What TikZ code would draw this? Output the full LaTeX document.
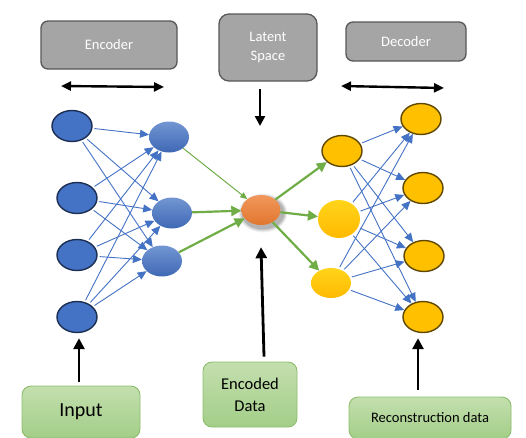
\documentclass[tikz,border=0pt]{standalone}
\usepackage{fontspec}
\setmainfont{Carlito}
\usetikzlibrary{arrows.meta,shapes.geometric}
\definecolor{encblue}{HTML}{4472C4}
\definecolor{encdark}{HTML}{1C2E52}
\definecolor{orng}{HTML}{ED7D31}
\definecolor{gold}{HTML}{FFC000}
\definecolor{goldline}{HTML}{5E4700}
\definecolor{grn}{HTML}{70AD47}
\definecolor{gbox}{HTML}{A5A5A5}
\definecolor{gline}{HTML}{585858}
\definecolor{lgreen}{HTML}{C3DFAE}
\definecolor{mgreen}{HTML}{A3CE88}
\tikzset{
  ell/.style={ellipse, inner sep=0pt, minimum width=40pt, minimum height=31pt},
  inl/.style={ell, fill=encblue, draw=encdark, line width=1.4pt},
  hid/.style={ell, top color=encblue!75!white, bottom color=encblue!92!black, draw=none},
  outl/.style={ell, fill=gold, draw=goldline, line width=1.4pt},
  dhid/.style={ell, top color=gold!75!yellow!90!white, bottom color=gold!90!orange, draw=none},
  graybox/.style={draw=gline, fill=gbox, line width=1.3pt, rounded corners=7pt, text=white, align=center, font=\fontsize{14.5}{19}\selectfont},
  greenbox/.style={draw=grn!80!white, top color=lgreen, bottom color=mgreen, line width=0.9pt, rounded corners=9pt, text=black, align=center},
  blue edge/.style={draw=encblue, line width=0.9pt, -{Triangle[length=9pt,width=8pt]}, shorten <=2pt},
  green edge/.style={draw=grn, line width=2.2pt, -{Triangle[length=10pt,width=10pt]}},
  thin green/.style={draw=grn, line width=1pt, -{Triangle[length=7pt,width=6pt]}},
  blk/.style={draw=black, line width=2.8pt, -{Triangle[length=11pt,width=11pt]}},
  dbl/.style={draw=black, line width=2.4pt, {Triangle[length=10pt,width=9pt]}-{Triangle[length=10pt,width=9pt]}},
}
\begin{document}
\begin{tikzpicture}[x=1pt,y=-1pt]
\useasboundingbox (0,0) rectangle (526,437);
% top boxes
\node[graybox, minimum width=136pt, minimum height=48pt] (enc) at (109,45) {Encoder};
\node[graybox, minimum width=98pt, minimum height=67pt, rounded corners=10pt] (lat) at (268,47.5) {Latent\\Space};
\node[graybox, minimum width=120pt, minimum height=39pt] (dec) at (406,41.5) {Decoder};
\coordinate (ea) at (61,86); \coordinate (eb) at (164,87);
\draw[dbl] (ea) -- (eb);
\coordinate (da) at (341,86); \coordinate (db) at (444,88);
\draw[dbl] (da) -- (db);
\coordinate (la) at (260,89); \coordinate (lb) at (260,126);
\draw[blk, line width=2.4pt, -{Triangle[length=10pt,width=10pt]}] (la) -- (lb);
% input layer
\node[inl] (i1) at (72,126) {};
\node[inl] (i2) at (77,198) {};
\node[inl] (i3) at (77,255) {};
\node[inl] (i4) at (77,317) {};
% hidden encoder
\node[hid] (h1) at (169,137) {};
\node[hid] (h2) at (172,213) {};
\node[hid] (h3) at (162,261) {};
% latent with shadow
\foreach \s/\o in {9/0.05,7/0.07,5/0.09,3/0.12}{
  \fill[black, opacity=\o] (263,213) ellipse ({20+\s/2} and {15+\s/2});
}
\node[ell, minimum width=39pt, minimum height=30pt, top color=orng!80!white, bottom color=orng!95!black] (z) at (261,210) {};
% decoder hidden
\node[outl] (d1) at (342,151) {};
\node[dhid, minimum width=42pt, minimum height=38pt] (d2) at (339,219) {};
\node[dhid, minimum width=40pt, minimum height=30pt] (d3) at (331,283) {};
% outputs
\node[outl] (o1) at (421,119) {};
\node[outl] (o2) at (423,188) {};
\node[outl] (o3) at (424,256) {};
\node[outl] (o4) at (423,317) {};
% blue connections
\foreach \a in {i1,i2,i3,i4}{
  \foreach \b in {h1,h2,h3}{
    \draw[blue edge] (\a) -- (\b);
  }
}
\foreach \a in {d1,d2,d3}{
  \foreach \b in {o1,o2,o3,o4}{
    \draw[blue edge] (\a) -- (\b);
  }
}
% green connections
\draw[thin green] (h1) -- (z);
\draw[green edge] (h2) -- (z);
\draw[green edge] (h3) -- (z);
\draw[green edge] (z) -- (d1);
\draw[green edge] (z) -- (d2);
\draw[green edge] (z) -- (d3);
% bottom boxes
\node[greenbox, minimum width=118pt, minimum height=52pt, font=\fontsize{20}{24}\selectfont] (inp) at (81,412) {Input};
\node[greenbox, minimum width=94pt, minimum height=65pt, font=\fontsize{16.5}{22}\selectfont] (encd) at (250,394.5) {Encoded\\Data};
\node[greenbox, minimum width=162pt, minimum height=42pt, font=\fontsize{14.5}{16}\selectfont] (rec) at (430,418) {Reconstruction data};
\draw[blk] ([xshift=-2pt,yshift=4pt]inp.north) -- ([xshift=2pt,yshift=-5pt]i4.south);
\draw[blk] ([xshift=14pt,yshift=5pt]encd.north) -- ([yshift=-22pt]z.south);
\draw[blk] ([xshift=-12pt,yshift=7pt]rec.north) -- ([xshift=-5pt,yshift=-5pt]o4.south);
\end{tikzpicture}
\end{document}
